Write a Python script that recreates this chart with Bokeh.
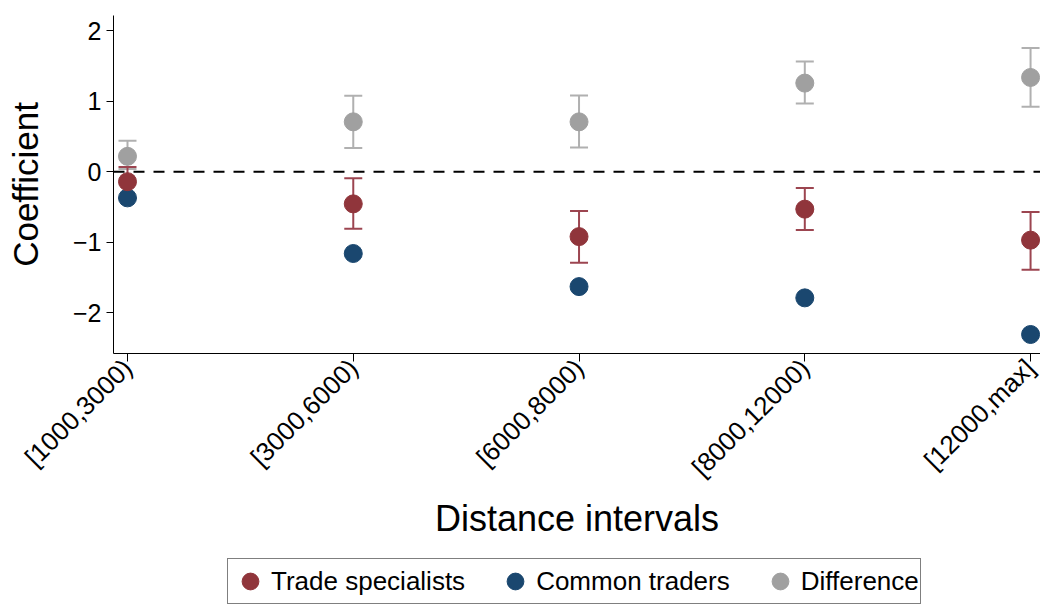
import math
from bokeh.plotting import figure
from bokeh.layouts import column
from bokeh.models import (Range1d, FixedTicker, Span, Whisker, TeeHead,
                          ColumnDataSource, Legend, LegendItem)
from bokeh.embed import file_html
from bokeh.resources import INLINE

# ---- data ----
categories = ["[1000,3000)", "[3000,6000)", "[6000,8000)", "[8000,12000)", "[12000,max]"]

trade_coef = [-0.14, -0.455, -0.92, -0.53, -0.97]
trade_lo = [-0.37, -0.81, -1.29, -0.825, -1.39]
trade_hi = [0.07, -0.09, -0.555, -0.23, -0.57]

common_coef = [-0.37, -1.16, -1.63, -1.79, -2.31]

diff_coef = [0.22, 0.71, 0.71, 1.26, 1.34]
diff_lo = [0.04, 0.34, 0.345, 0.97, 0.925]
diff_hi = [0.44, 1.08, 1.085, 1.565, 1.76]

series_names = ["Trade specialists", "Common traders", "Difference"]
y_ticks = [-2, -1, 0, 1, 2]

RED = "#90353B"
RED_BAR = "#9C4550"
BLUE = "#1A476F"
GRAY = "#A0A0A0"
GRAY_BAR = "#B0B0B0"
FONT = "Liberation Sans"

xs = list(range(1, len(categories) + 1))

p = figure(width=1040, height=542, output_backend="svg", toolbar_location=None,
           x_range=Range1d(0.938, 5.044), y_range=Range1d(-2.58, 2.22),
           min_border_left=113, min_border_right=0, min_border_top=15,
           min_border_bottom=0)
p.outline_line_color = None
p.grid.visible = False
p.background_fill_color = "white"
p.border_fill_color = "white"

# zero reference line
p.add_layout(Span(location=0, dimension="width", line_color="black",
                  line_width=2, line_dash="11 9"))

# common traders (points only)
p.scatter(xs, common_coef, size=18, color=BLUE, line_color=BLUE)

# difference
diff_src = ColumnDataSource(dict(x=xs, y=diff_coef, lo=diff_lo, hi=diff_hi))
p.add_layout(Whisker(base="x", upper="hi", lower="lo", source=diff_src,
                     dimension="height", line_color=GRAY_BAR, line_width=2,
                     upper_head=TeeHead(size=18, line_color=GRAY_BAR, line_width=2),
                     lower_head=TeeHead(size=18, line_color=GRAY_BAR, line_width=2)))
p.scatter("x", "y", source=diff_src, size=18, color=GRAY, line_color=GRAY)

# trade specialists
trade_src = ColumnDataSource(dict(x=xs, y=trade_coef, lo=trade_lo, hi=trade_hi))
p.add_layout(Whisker(base="x", upper="hi", lower="lo", source=trade_src,
                     dimension="height", line_color=RED_BAR, line_width=2,
                     upper_head=TeeHead(size=18, line_color=RED_BAR, line_width=2),
                     lower_head=TeeHead(size=18, line_color=RED_BAR, line_width=2)))
p.scatter("x", "y", source=trade_src, size=18, color=RED, line_color=RED)

# ---- axes ----
xa = p.xaxis[0]
xa.ticker = FixedTicker(ticks=xs)
xa.major_label_overrides = {x: c for x, c in zip(xs, categories)}
xa.major_label_orientation = math.pi / 4
xa.major_label_text_font = FONT
xa.major_label_text_font_size = "26px"
xa.major_label_text_color = "black"
xa.major_label_standoff = 2
xa.major_tick_out = 8
xa.major_tick_in = 0
xa.minor_tick_out = 0
xa.minor_tick_in = 0
xa.axis_line_color = "black"
xa.major_tick_line_color = "black"
xa.axis_label = "Distance intervals"
xa.axis_label_text_font = FONT
xa.axis_label_text_font_size = "36px"
xa.axis_label_text_font_style = "normal"
xa.axis_label_text_color = "black"
xa.axis_label_standoff = 2

ya = p.yaxis[0]
ya.ticker = FixedTicker(ticks=y_ticks)
ya.major_label_overrides = {t: (("\u2212" + str(abs(t))) if t < 0 else str(t)) for t in y_ticks}
ya.major_label_text_font = FONT
ya.major_label_text_font_size = "25px"
ya.major_label_text_color = "black"
ya.major_label_standoff = 5
ya.major_tick_out = 7
ya.major_tick_in = 0
ya.minor_tick_out = 0
ya.minor_tick_in = 0
ya.axis_line_color = "black"
ya.major_tick_line_color = "black"
ya.axis_label = "Coefficient"
ya.axis_label_text_font = FONT
ya.axis_label_text_font_size = "35px"
ya.axis_label_text_font_style = "normal"
ya.axis_label_text_color = "black"
ya.axis_label_standoff = 25

# ---- legend (in a strip below the chart) ----
lf = figure(width=1040, height=62, output_backend="svg", toolbar_location=None,
            x_range=Range1d(0, 1), y_range=Range1d(0, 1),
            x_axis_type=None, y_axis_type=None, min_border=0)
lf.outline_line_color = None
lf.grid.visible = False
lf.background_fill_color = "white"
lf.border_fill_color = "white"

proxies = [lf.scatter(xs, vals, size=18, color=c, line_color=c, visible=False)
           for vals, c in ((trade_coef, RED), (common_coef, BLUE), (diff_coef, GRAY))]
legend = Legend(items=[LegendItem(label=n, renderers=[r])
                       for n, r in zip(series_names, proxies)],
                location=(114, 0), orientation="horizontal",
                glyph_width=42, glyph_height=42, label_standoff=0, spacing=29,
                padding=1, margin=0, border_line_color="black", border_line_width=1,
                label_text_font=FONT, label_text_font_size="26px",
                label_text_color="black", background_fill_color="white",
                background_fill_alpha=1.0)
lf.add_layout(legend, "center")

layout = column(p, lf, spacing=0)
open("out.html", "w").write(file_html(layout, INLINE))
